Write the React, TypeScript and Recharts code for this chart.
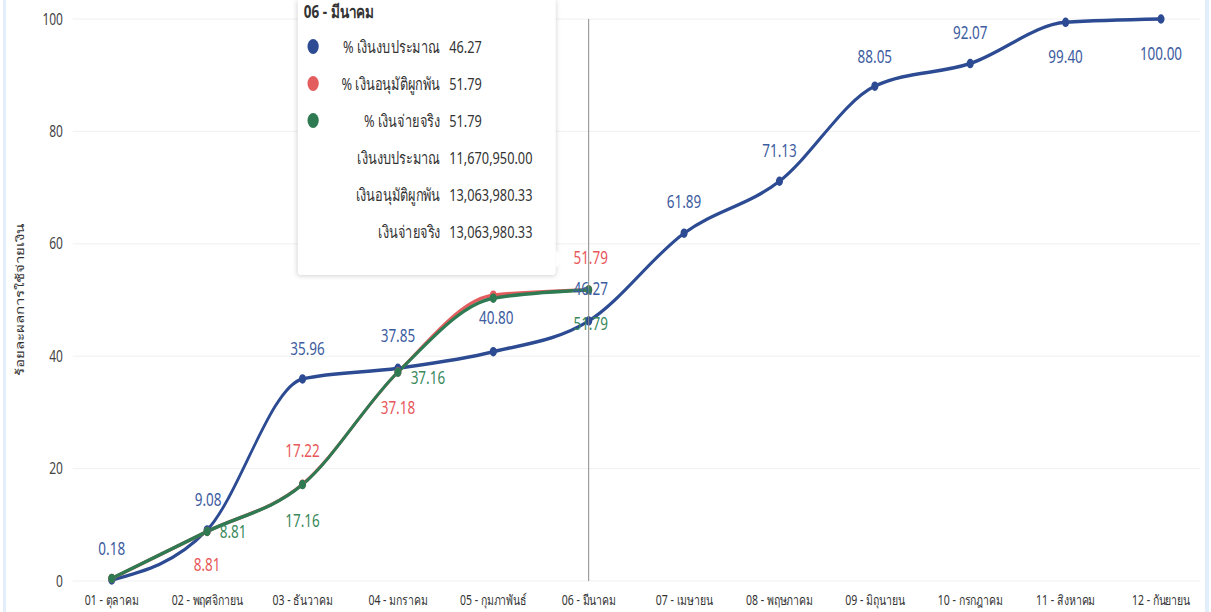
import { LineChart, Line, XAxis, YAxis, CartesianGrid, Tooltip, LabelList } from "recharts";

const months = [
  "01 - ตุลาคม",
  "02 - พฤศจิกายน",
  "03 - ธันวาคม",
  "04 - มกราคม",
  "05 - กุมภาพันธ์",
  "06 - มีนาคม",
  "07 - เมษายน",
  "08 - พฤษภาคม",
  "09 - มิถุนายน",
  "10 - กรกฎาคม",
  "11 - สิงหาคม",
  "12 - กันยายน",
];
const budgetPct = [0.18, 9.08, 35.96, 37.85, 40.8, 46.27, 61.89, 71.13, 88.05, 92.07, 99.4, 100.0];
const committedPct = [0.45, 8.81, 17.22, 37.18, 50.86, 51.79];
const paidPct = [0.45, 8.81, 17.16, 37.16, 50.32, 51.79];
const yTicks = [0, 20, 40, 60, 80, 100];

// amounts shown in the tooltip for 06 - มีนาคม
const tipAmounts = [
  { name: "เงินงบประมาณ", value: "11,670,950.00" },
  { name: "เงินอนุมัติผูกพัน", value: "13,063,980.33" },
  { name: "เงินจ่ายจริง", value: "13,063,980.33" },
];

const S = 0.75; // the screenshot is squeezed horizontally
const W = Math.round(1211 / S);
const H = 612;

const BLUE = "#2c4b93";
const RED = "#e35d5f";
const GREEN = "#2e7a52";
const FONT = "'Noto Sans', 'DejaVu Sans', sans-serif";

// label offsets from the point, in screen px: [dx, dy] or null to hide
const blueLabelPos: ([number, number] | null)[] = [
  [0, -32], [1, -31], [5, -31], [0, -33], [3, -34], [2, -33],
  [0, -32], [0, -31], [0, -30], [0, -31], [0, 34], [0, 34],
];
const redLabelPos: ([number, number] | null)[] = [null, [0, 33], [0, -34], [0, 35], null, [2, -33]];
const greenLabelPos: ([number, number] | null)[] = [null, [26, 0], [0, 36], [30, 5], null, [2, 33]];

const data = months.map((m, i) => ({
  month: m,
  budget: budgetPct[i],
  committed: committedPct[i] ?? null,
  paid: paidPct[i] ?? null,
}));

const fmt = (v: number) => v.toFixed(2);

function makeLabel(color: string, pos: ([number, number] | null)[]) {
  return (props: any) => {
    const { x, y, value, index } = props;
    const p = pos[index];
    if (!p || value == null) return null;
    return (
      <text
        x={x + p[0] / S}
        y={y + p[1]}
        fill={color}
        fontSize={18}
        fontFamily={FONT}
        textAnchor="middle"
        dominantBaseline="central"
      >
        {fmt(value)}
      </text>
    );
  };
}

function TipContent({ payload, label }: any) {
  if (!payload || payload.length === 0) return null;
  const rowStyle = { display: "flex", alignItems: "center", height: 37 };
  return (
    <div
      style={{
        position: "relative",
        background: "#fff",
        width: 344,
        height: 275,
        boxSizing: "border-box",
        paddingTop: 0,
        boxShadow: "0 1px 6px rgba(0,0,0,0.18)",
        borderRadius: "0 0 4px 4px",
        fontFamily: FONT,
        color: "#333",
        fontSize: 17,
      }}
    >
      <div style={{ fontWeight: 700, fontSize: 18, paddingLeft: 8, height: 28, lineHeight: "22px" }}>{label}</div>
      {payload.map((p: any) => (
        <div key={p.dataKey} style={rowStyle}>
          <span style={{ width: 40, display: "flex", justifyContent: "center" }}>
            <span style={{ width: 15, height: 15, borderRadius: "50%", background: p.color, display: "inline-block" }} />
          </span>
          <span style={{ width: 150, textAlign: "right" }}>{p.name}</span>
          <span style={{ paddingLeft: 12 }}>{fmt(p.value)}</span>
        </div>
      ))}
      {tipAmounts.map((a) => (
        <div key={a.name} style={rowStyle}>
          <span style={{ width: 190, textAlign: "right" }}>{a.name}</span>
          <span style={{ paddingLeft: 12 }}>{a.value}</span>
        </div>
      ))}
      <div
        style={{
          position: "absolute",
          right: -10,
          top: 250,
          width: 0,
          height: 0,
          borderTop: "9px solid transparent",
          borderBottom: "9px solid transparent",
          borderLeft: "10px solid #fff",
        }}
      />
    </div>
  );
}

export default function App() {
  return (
    <div style={{ position: "absolute", left: 0, top: 0, width: 1211, height: H, overflow: "hidden", background: "#fff" }}>
      <div style={{ position: "absolute", left: 3, top: 0, width: 3, height: H, background: "#e3eefb" }} />
      <div style={{ position: "absolute", left: 1205, top: 0, width: 4, height: H, background: "#e3eefb" }} />
      <div style={{ width: W, height: H, transform: `scaleX(${S})`, transformOrigin: "0 0" }}>
        <LineChart width={W} height={H} data={data} margin={{ top: 19, right: 15, left: 0, bottom: 0 }}>
          <CartesianGrid vertical={false} stroke="#eeeeee" />
          <XAxis
            dataKey="month"
            axisLine={false}
            tickLine={false}
            interval={0}
            padding={{ left: 52, right: 52 }}
            height={31}
            tickMargin={8}
            tick={{ fontSize: 14, fill: "#333", fontFamily: FONT }}
          />
          <YAxis
            domain={[0, 100]}
            ticks={yTicks}
            width={97}
            axisLine={false}
            tickLine={false}
            tickMargin={7}
            tick={{ fontSize: 16, fill: "#444", fontFamily: FONT }}
            label={{
              value: "ร้อยละผลการใช้จ่ายเงิน",
              angle: -90,
              position: "insideLeft",
              offset: 27,
              style: { textAnchor: "middle", fontSize: 15, fill: "#333", fontFamily: FONT },
            }}
          />
          <Tooltip
            defaultIndex={5}
            isAnimationActive={false}
            position={{ x: 397, y: 0 }}
            cursor={{ stroke: "#888", strokeWidth: 1.3 }}
            content={<TipContent />}
            wrapperStyle={{ outline: "none" }}
          />
          <Line
            type="monotone"
            dataKey="budget"
            name="% เงินงบประมาณ"
            stroke={BLUE}
            strokeWidth={3.5}
            dot={{ r: 3, fill: BLUE, stroke: BLUE }}
            activeDot={false}
            isAnimationActive={false}
          >
            <LabelList dataKey="budget" content={makeLabel("#3d5c9f", blueLabelPos)} />
          </Line>
          <Line
            type="monotone"
            dataKey="committed"
            name="% เงินอนุมัติผูกพัน"
            stroke={RED}
            strokeWidth={3.5}
            dot={{ r: 3, fill: RED, stroke: RED }}
            activeDot={false}
            isAnimationActive={false}
          >
            <LabelList dataKey="committed" content={makeLabel("#e8585a", redLabelPos)} />
          </Line>
          <Line
            type="monotone"
            dataKey="paid"
            name="% เงินจ่ายจริง"
            stroke={GREEN}
            strokeWidth={3.5}
            dot={{ r: 3, fill: GREEN, stroke: GREEN }}
            activeDot={false}
            isAnimationActive={false}
          >
            <LabelList dataKey="paid" content={makeLabel("#3a8a5c", greenLabelPos)} />
          </Line>
        </LineChart>
      </div>
    </div>
  );
}
